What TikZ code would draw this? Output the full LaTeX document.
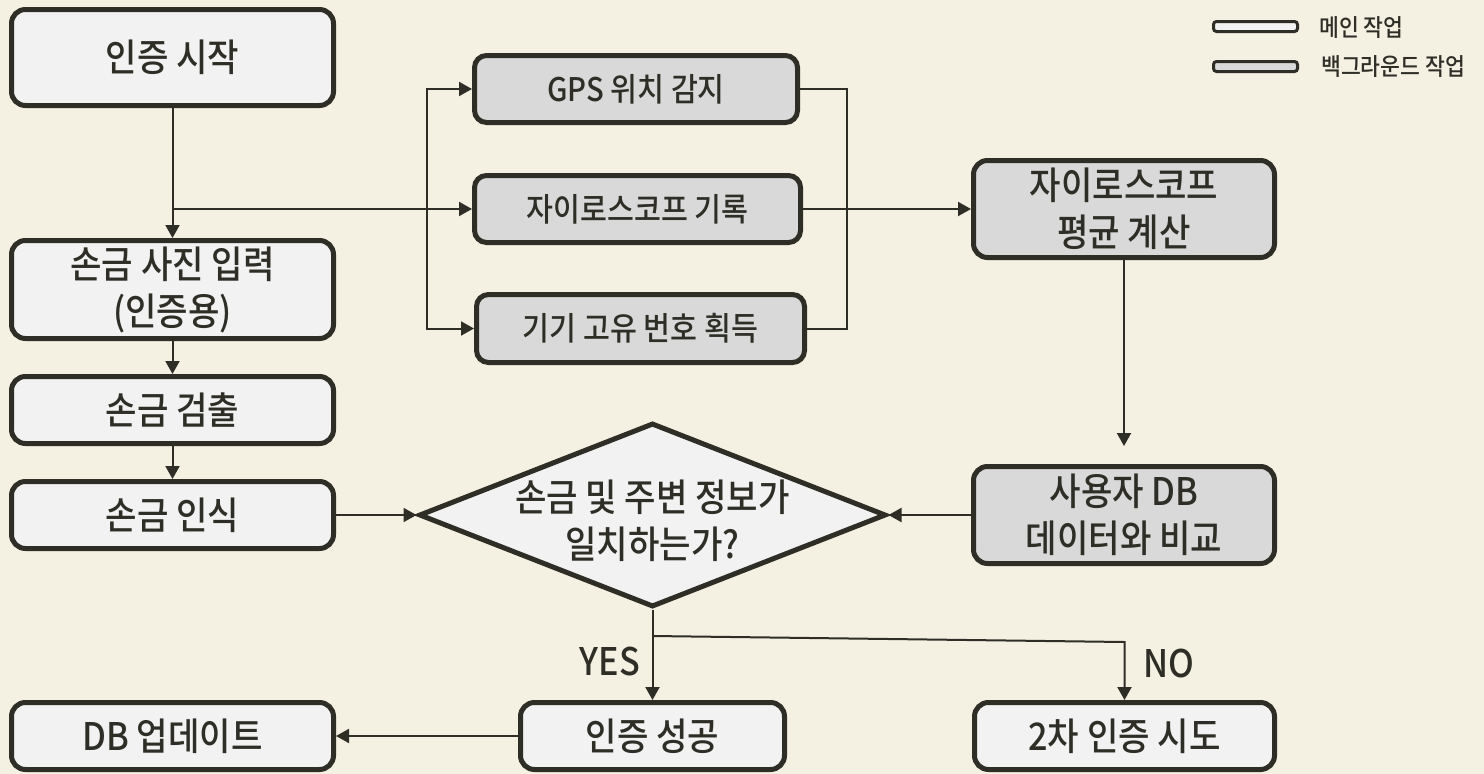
\documentclass[tikz,border=0pt]{standalone}
\usepackage{fontspec}
\setmainfont{Noto Sans CJK KR}[UprightFont=* Medium, FakeStretch=0.9]
\usetikzlibrary{arrows.meta,shapes.geometric,calc}
\definecolor{bg}{HTML}{F4F1E3}
\definecolor{ink}{HTML}{2E2E27}
\definecolor{mainfill}{HTML}{F2F2F2}
\definecolor{bgfill}{HTML}{D9D9D9}
\begin{document}
\begin{tikzpicture}[x=1pt,y=-1pt,
  box/.style={draw=ink, line width=5pt, rounded corners=14pt, fill=mainfill, inner sep=0pt, align=center, text=ink, font=\fontsize{38}{47}\selectfont},
  bgbox/.style={box, fill=bgfill},
  small/.style={font=\fontsize{32.5}{40}\selectfont, rounded corners=12pt},
  dia/.style={diamond, draw=ink, line width=5pt, fill=mainfill, inner sep=0pt},
  legbox/.style={draw=ink, line width=3pt, rounded corners=3pt, minimum width=84, minimum height=10, inner sep=0pt},
  legtext/.style={anchor=west, inner sep=0pt, text=ink, font=\fontsize{24}{26}\selectfont},
  conn/.style={draw=ink, line width=2pt},
  arr/.style={conn, -{Triangle[length=13pt,width=14pt]}},
  lbl/.style={text=ink, inner sep=0pt, font=\fontsize{38}{40}\selectfont},
]
\fill[bg] (0,0) rectangle (1484,774);
\useasboundingbox (0,0) rectangle (1484,774);

% main column
\node[box, minimum width=322, minimum height=96] (start) at (172.5,57.5) {인증 시작};
\node[box, minimum width=322, minimum height=98] (photo) at (172.5,289.5) {손금 사진 입력\\(인증용)};
\node[box, minimum width=322, minimum height=67] (detect) at (172.5,410) {손금 검출};
\node[box, minimum width=322, minimum height=67] (recog) at (172.5,515) {손금 인식};

% background tasks
\node[bgbox, small, minimum width=323, minimum height=67] (gps) at (636,89) {GPS 위치 감지};
\node[bgbox, small, minimum width=326, minimum height=67] (gyro) at (637.5,209) {자이로스코프 기록};
\node[bgbox, small, minimum width=328, minimum height=68] (devid) at (640.5,328.5) {기기 고유 번호 획득};
\node[bgbox, minimum width=301, minimum height=97] (avg) at (1124,209) {자이로스코프\\평균 계산};
\node[bgbox, minimum width=301, minimum height=97] (cmp) at (1124,515) {사용자 DB\\데이터와 비교};

% decision
\node[dia, minimum width=467, minimum height=184] (dec) at (652.5,515) {};
\node[text=ink, align=center, inner sep=0pt, font=\fontsize{38}{47}\selectfont] (dectext) at (652.5,521) {손금 및 주변 정보가\\일치하는가?};

% results
\node[box, minimum width=322, minimum height=67] (dbup) at (172.5,736) {DB 업데이트};
\node[box, minimum width=264, minimum height=67] (succ) at (652.5,736) {인증 성공};
\node[box, minimum width=300, minimum height=67] (retry) at (1124.5,736) {2차 인증 시도};

% legend
\node[legbox, fill=mainfill] (leg1) at (1255.5,26.5) {};
\node[legbox, fill=bgfill] (leg2) at (1255.5,66.5) {};
\node[legtext] (leg1t) at (1319,28) {메인 작업};
\node[legtext] (leg2t) at (1321,67) {백그라운드 작업};

% connectors
\coordinate (j1) at (172.5,209);
\coordinate (busL) at (427,209);
\coordinate (busR) at (847,209);
\draw[arr] (start) -- (photo);
\draw[arr] (j1) -- (gyro.west);
\draw[arr] (busL) |- (gps.west);
\draw[arr] (busL) |- (devid.west);
\draw[conn] (gps.east) -- (gps.east -| busR) -- (devid.east -| busR) -- (devid.east);
\draw[arr] (gyro) -- (avg);
\draw[arr, shorten >=18pt] (avg) -- (cmp);
\draw[arr] (cmp) -- (dec.east);
\draw[arr] (recog) -- (dec.west);
\draw[arr] (photo) -- (detect);
\draw[arr] (detect) -- (recog);
\draw[arr] (dec.south) -- (succ.north);
\coordinate (split) at (652.5,636);
\coordinate (noturn) at (1124.5,642);
\draw[arr] (split) -- (noturn) -- (retry.north);
\draw[arr] (succ) -- (dbup);
\node[lbl, anchor=east] (yes) at (640,662) {YES};
\node[lbl, anchor=west] (no) at (1143,664) {NO};
\end{tikzpicture}
\end{document}
